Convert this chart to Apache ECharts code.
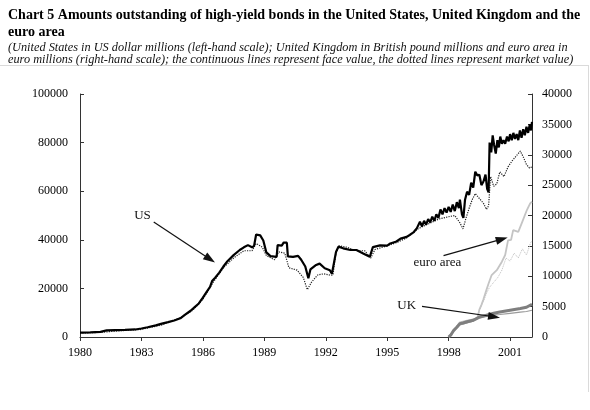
<!DOCTYPE html>
<html><head><meta charset="utf-8">
<script src="https://cdn.jsdelivr.net/npm/echarts@6/dist/echarts.min.js"></script>
<style>html,body{margin:0;padding:0;background:#fff}#c{width:590px;height:410px}</style>
</head><body><div id="c"></div>
<script>
// ---- data (x = decimal year) ----
const xTickYears = [1980, 1983, 1986, 1989, 1992, 1995, 1998, 2001];
const leftTicks = [0, 20000, 40000, 60000, 80000, 100000];
const rightTicks = [0, 5000, 10000, 15000, 20000, 25000, 30000, 35000, 40000];

// United States, US dollar millions, face value (left scale)
const usFace = [[1980.0,1800],[1980.5,1900],[1981.0,2100],[1981.3,2700],[1981.7,2800],[1982.2,2900],[1982.7,3100],[1983.0,3500],[1983.3,4000],[1983.7,4800],[1984.0,5500],[1984.3,6100],[1984.6,6800],[1984.9,7700],[1985.1,9000],[1985.4,10800],[1985.6,12300],[1985.8,13800],[1986.0,16200],[1986.2,18800],[1986.35,20600],[1986.45,23000],[1986.6,24400],[1986.8,26500],[1987.0,29000],[1987.2,31200],[1987.5,33700],[1987.8,35800],[1988.0,36900],[1988.2,37800],[1988.4,36900],[1988.5,37500],[1988.6,42200],[1988.8,41800],[1988.95,39700],[1989.1,34800],[1989.3,33300],[1989.6,33000],[1989.65,37800],[1989.85,37600],[1989.95,38900],[1990.1,38800],[1990.15,33200],[1990.4,33000],[1990.65,33400],[1990.8,31800],[1991.0,29000],[1991.15,24200],[1991.25,27800],[1991.5,29500],[1991.7,30200],[1991.95,28300],[1992.2,27500],[1992.3,26000],[1992.4,30500],[1992.5,35000],[1992.62,37200],[1992.85,36500],[1993.2,35800],[1993.5,35800],[1993.85,34300],[1994.15,33000],[1994.3,37000],[1994.65,37700],[1995.0,37600],[1995.15,38500],[1995.45,39300],[1995.65,40500],[1995.95,41200],[1996.1,42000],[1996.3,43200],[1996.45,44800],[1996.6,47400],[1996.7,45500],[1996.8,47800],[1996.9,46200],[1997.0,48500],[1997.1,47200],[1997.2,49500],[1997.3,47800],[1997.4,50500],[1997.5,49000],[1997.6,52500],[1997.7,50500],[1997.8,53000],[1997.9,51200],[1998.0,53500],[1998.1,51500],[1998.2,54500],[1998.3,51800],[1998.4,55500],[1998.5,53000],[1998.55,56500],[1998.65,50500],[1998.72,49000],[1998.8,56500],[1998.9,59800],[1999.0,58500],[1999.1,63500],[1999.2,61500],[1999.3,68000],[1999.4,66500],[1999.5,66800],[1999.6,62500],[1999.7,64000],[1999.8,66800],[1999.88,61000],[1999.95,59500],[2000.0,80000],[2000.08,76000],[2000.15,83000],[2000.22,79000],[2000.3,75500],[2000.38,81000],[2000.45,78000],[2000.52,82500],[2000.6,79500],[2000.68,81000],[2000.76,79500],[2000.85,82500],[2000.93,80500],[2001.0,83500],[2001.08,81000],[2001.16,84000],[2001.24,81500],[2001.32,83500],[2001.4,81000],[2001.48,85000],[2001.56,82000],[2001.64,85500],[2001.72,83000],[2001.8,86500],[2001.88,84000],[2001.96,87500],[2002.02,85000],[2002.07,88500]];
// United States, market value (left scale)
const usMarket = [[1980.0,1600],[1981.0,1900],[1982.0,2600],[1983.0,3100],[1984.0,5000],[1985.0,8300],[1985.5,11000],[1986.0,15500],[1986.5,22500],[1987.0,28500],[1987.5,32500],[1988.0,35500],[1988.4,35500],[1988.6,38500],[1988.9,37000],[1989.1,33500],[1989.5,31800],[1989.7,35000],[1990.0,34500],[1990.2,28500],[1990.6,27500],[1990.9,24500],[1991.1,19500],[1991.3,22500],[1991.6,25500],[1991.9,26000],[1992.2,25500],[1992.35,25500],[1992.5,34500],[1992.65,37500],[1993.0,37000],[1993.5,35500],[1993.9,35500],[1994.2,32500],[1994.4,36000],[1995.0,37500],[1995.5,39000],[1996.0,41000],[1996.5,44500],[1997.0,46500],[1997.5,48500],[1998.0,49500],[1998.3,50000],[1998.55,47000],[1998.7,44500],[1998.85,49000],[1999.0,53000],[1999.15,56500],[1999.3,59000],[1999.5,57000],[1999.7,55000],[1999.85,52500],[1999.95,54000],[2000.05,66000],[2000.2,62000],[2000.35,63000],[2000.5,68000],[2000.7,66000],[2000.9,70000],[2001.1,72500],[2001.3,74500],[2001.5,76500],[2001.65,74000],[2001.8,71000],[2001.95,69500],[2002.07,70000]];
// United Kingdom, British pound millions (right scale)
const ukFace = [[1998.0,0],[1998.1,300],[1998.25,1100],[1998.4,1600],[1998.55,2200],[1998.7,2300],[1998.9,2500],[1999.2,2750],[1999.5,3300],[1999.85,3600],[2000.2,3900],[2000.5,4100],[2001.0,4400],[2001.5,4700],[2001.8,4900],[2002.07,5400]];
const ukMarket = [[1998.0,0],[1998.1,250],[1998.25,1000],[1998.55,2000],[1998.9,2300],[1999.2,2600],[1999.5,3100],[1999.85,3400],[2000.2,3600],[2000.5,3700],[2001.0,3900],[2001.5,4100],[2001.8,4200],[2002.07,4400]];
// Euro area, euro millions (right scale)
const euroFace = [[1998.0,0],[1998.1,400],[1998.3,1300],[1998.55,2400],[1998.9,2700],[1999.2,2900],[1999.4,3100],[1999.5,4500],[1999.6,5300],[1999.7,6200],[1999.85,7800],[1999.95,8800],[2000.1,10200],[2000.35,11000],[2000.6,12400],[2000.76,13500],[2000.9,15900],[2001.05,16000],[2001.15,17600],[2001.4,17300],[2001.6,19000],[2001.82,20900],[2001.98,22000],[2002.07,22300]];
const euroMarket = [[1998.0,0],[1998.1,350],[1998.3,1200],[1998.55,2300],[1998.9,2600],[1999.2,2800],[1999.4,3000],[1999.5,4300],[1999.7,5900],[1999.85,7200],[2000.0,8200],[2000.2,9000],[2000.4,9800],[2000.6,11000],[2000.8,13000],[2001.0,12500],[2001.2,13800],[2001.4,13000],[2001.6,14500],[2001.8,13500],[2002.0,15500],[2002.07,15800]];

// annotation anchors (data units)
const usLabel = {text:'US', at:[1983.05, 49800], from:[1983.6, 47300], to:[1986.35, 32000]};
const euroLabel = {text:'euro area', at:[1997.45, 12300], from:[1997.75, 13400], to:[2000.6, 16100]};
const ukLabel = {text:'UK', at:[1995.95, 5200], from:[1996.7, 5050], to:[2000.22, 3330]};

const SERIF = 'Liberation Serif';
const xMin = 1980, xMax = 2002.07;

function arrow(a){
  return {
    silent: true, symbol: ['none','triangle'], symbolSize: [8, 12],
    lineStyle: {color:'#111', width:1.2, type:'solid'}, label:{show:false},
    data: [[{coord:a.from},{coord:a.to}]]
  };
}
function tag(a){
  return {
    silent: true, symbol:'circle', symbolSize:0,
    label:{show:true, position:'inside', formatter:a.text, color:'#111', fontFamily:SERIF, fontSize:13},
    data:[{coord:a.at}]
  };
}

const chart = echarts.init(document.getElementById('c'), null, {renderer:'canvas'});
chart.setOption({
  animation:false,
  backgroundColor:'#fff',
  title:{
    left:3, top:2, itemGap:1,
    text:'Chart 5 Amounts outstanding of high-yield bonds in the United States, United Kingdom and the\neuro area',
    textStyle:{fontFamily:SERIF, fontWeight:'bold', fontSize:14, lineHeight:17, color:'#000'},
    subtext:'(United States in US dollar millions (left-hand scale); United Kingdom in British pound millions and euro area in\neuro millions (right-hand scale); the continuous lines represent face value, the dotted lines represent market value)',
    subtextStyle:{fontFamily:SERIF, fontStyle:'italic', fontSize:12.3, lineHeight:12, color:'#111'}
  },
  graphic:[
    {type:'line', silent:true, shape:{x1:0, y1:65.5, x2:589, y2:65.5}, style:{stroke:'#dadada', lineWidth:1}},
    {type:'line', silent:true, shape:{x1:588.5, y1:65.5, x2:588.5, y2:392}, style:{stroke:'#dadada', lineWidth:1}}
  ],
  grid:{left:80, right:58, top:94, bottom:73, containLabel:false},
  xAxis:{
    type:'value', min:xMin, max:xMax, interval:3,
    axisLine:{show:true, lineStyle:{color:'#333', width:1}},
    axisTick:{show:true, inside:false, length:4, lineStyle:{color:'#333'}},
    axisLabel:{color:'#000', fontFamily:SERIF, fontSize:12, margin:10, showMaxLabel:false,
      formatter:v => xTickYears.indexOf(Math.round(v))>=0 && Math.abs(v-Math.round(v))<1e-6 ? String(Math.round(v)) : ''},
    splitLine:{show:false}
  },
  yAxis:[{
    type:'value', position:'left', min:leftTicks[0], max:leftTicks[leftTicks.length-1], interval:leftTicks[1]-leftTicks[0],
    axisLine:{show:true, lineStyle:{color:'#333', width:1}},
    axisTick:{show:true, inside:true, length:4, lineStyle:{color:'#333'}},
    axisLabel:{color:'#000', fontFamily:SERIF, fontSize:12, margin:12, formatter:v => String(v)},
    splitLine:{show:false}
  },{
    type:'value', position:'right', min:rightTicks[0], max:rightTicks[rightTicks.length-1], interval:rightTicks[1]-rightTicks[0],
    axisLine:{show:true, lineStyle:{color:'#333', width:1}},
    axisTick:{show:true, inside:true, length:4, lineStyle:{color:'#333'}},
    axisLabel:{color:'#000', fontFamily:SERIF, fontSize:12, margin:10, formatter:v => String(v)},
    splitLine:{show:false}
  }],
  series:[
    {name:'euro market', type:'line', yAxisIndex:1, data:euroMarket, showSymbol:false, lineStyle:{color:'#bdbdbd', width:1, type:'dotted'}},
    {name:'euro face', type:'line', yAxisIndex:1, data:euroFace, showSymbol:false, lineStyle:{color:'#c4c4c4', width:1.8},
      markLine:arrow(euroLabel), markPoint:tag(euroLabel)},
    {name:'uk market', type:'line', yAxisIndex:1, data:ukMarket, showSymbol:false, lineStyle:{color:'#9a9a9a', width:1.2}},
    {name:'uk face', type:'line', yAxisIndex:1, data:ukFace, showSymbol:false, lineStyle:{color:'#7f7f7f', width:3},
      markLine:arrow(ukLabel), markPoint:tag(ukLabel)},
    {name:'us market', type:'line', yAxisIndex:0, data:usMarket, showSymbol:false, lineStyle:{color:'#222', width:1.2, type:'dotted'}},
    {name:'us face', type:'line', yAxisIndex:0, data:usFace, showSymbol:false, lineStyle:{color:'#000', width:2.2},
      markLine:arrow(usLabel), markPoint:tag(usLabel)}
  ]
});
</script></body></html>
